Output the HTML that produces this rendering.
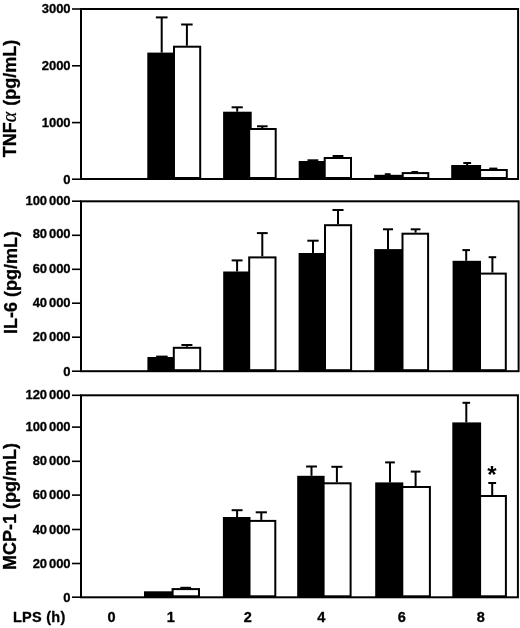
<!DOCTYPE html><html><head><meta charset="utf-8"><style>html,body{margin:0;padding:0;background:#fff;width:520px;height:628px;overflow:hidden}svg{display:block;will-change:transform}text{font-family:"Liberation Sans",sans-serif;font-weight:bold;fill:#000;stroke:#000;stroke-width:0.3px}</style></head><body>
<svg width="520" height="628" viewBox="0 0 520 628">
<rect width="520" height="628" fill="#fff"/>
<rect x="147.3" y="52.6" width="27.70" height="126.40" fill="#000"/>
<rect x="174.00" y="46.70" width="26.20" height="131.30" fill="#fff" stroke="#000" stroke-width="2"/>
<line x1="161.70" y1="52.60" x2="161.70" y2="17.40" stroke="#000" stroke-width="2"/>
<line x1="155.85" y1="17.40" x2="167.55" y2="17.40" stroke="#000" stroke-width="2"/>
<line x1="186.90" y1="45.70" x2="186.90" y2="24.50" stroke="#000" stroke-width="2"/>
<line x1="181.15" y1="24.50" x2="192.65" y2="24.50" stroke="#000" stroke-width="2"/>
<rect x="223.1" y="111.7" width="28.60" height="67.30" fill="#000"/>
<rect x="249.20" y="129.00" width="26.50" height="49.00" fill="#fff" stroke="#000" stroke-width="2"/>
<line x1="237.20" y1="111.70" x2="237.20" y2="107.30" stroke="#000" stroke-width="2"/>
<line x1="231.60" y1="107.30" x2="242.80" y2="107.30" stroke="#000" stroke-width="2"/>
<line x1="262.30" y1="128.00" x2="262.30" y2="126.30" stroke="#000" stroke-width="2"/>
<line x1="257.00" y1="126.30" x2="267.60" y2="126.30" stroke="#000" stroke-width="2"/>
<rect x="298.7" y="161.0" width="27.00" height="18.00" fill="#000"/>
<rect x="324.70" y="158.00" width="26.30" height="20.00" fill="#fff" stroke="#000" stroke-width="2"/>
<line x1="312.90" y1="161.00" x2="312.90" y2="160.30" stroke="#000" stroke-width="2"/>
<line x1="307.50" y1="160.30" x2="318.30" y2="160.30" stroke="#000" stroke-width="2"/>
<line x1="338.00" y1="157.00" x2="338.00" y2="156.00" stroke="#000" stroke-width="2"/>
<line x1="332.60" y1="156.00" x2="343.40" y2="156.00" stroke="#000" stroke-width="2"/>
<rect x="374.2" y="174.8" width="29.50" height="4.20" fill="#000"/>
<rect x="402.70" y="173.10" width="25.60" height="4.90" fill="#fff" stroke="#000" stroke-width="2"/>
<line x1="387.70" y1="174.80" x2="387.70" y2="174.20" stroke="#000" stroke-width="2"/>
<line x1="384.80" y1="174.20" x2="390.60" y2="174.20" stroke="#000" stroke-width="2"/>
<line x1="411.50" y1="172.00" x2="418.10" y2="172.00" stroke="#000" stroke-width="2"/>
<rect x="451.2" y="165" width="29.90" height="14.00" fill="#000"/>
<rect x="480.10" y="170.00" width="26.70" height="8.00" fill="#fff" stroke="#000" stroke-width="2"/>
<line x1="467.20" y1="165.00" x2="467.20" y2="163.00" stroke="#000" stroke-width="2"/>
<line x1="463.30" y1="163.00" x2="471.10" y2="163.00" stroke="#000" stroke-width="2"/>
<line x1="489.25" y1="168.60" x2="497.35" y2="168.60" stroke="#000" stroke-width="2"/>
<rect x="81" y="9.0" width="437.10" height="170.00" fill="none" stroke="#000" stroke-width="2"/>
<line x1="72" y1="9.0" x2="81" y2="9.0" stroke="#000" stroke-width="1.6"/>
<text transform="translate(70.6,12.60)" font-size="13" text-anchor="end">3000</text>
<line x1="72" y1="65.8" x2="81" y2="65.8" stroke="#000" stroke-width="1.6"/>
<text transform="translate(70.6,70.40)" font-size="13" text-anchor="end">2000</text>
<line x1="72" y1="122.6" x2="81" y2="122.6" stroke="#000" stroke-width="1.6"/>
<text transform="translate(70.6,127.20)" font-size="13" text-anchor="end">1000</text>
<line x1="72" y1="179.2" x2="81" y2="179.2" stroke="#000" stroke-width="1.6"/>
<text transform="translate(70.6,183.80)" font-size="13" text-anchor="end">0</text>
<rect x="147.4" y="357" width="27.40" height="14.20" fill="#000"/>
<rect x="173.80" y="347.80" width="26.40" height="22.40" fill="#fff" stroke="#000" stroke-width="2"/>
<line x1="156.15" y1="356.60" x2="167.65" y2="356.60" stroke="#000" stroke-width="2"/>
<line x1="186.90" y1="346.80" x2="186.90" y2="345.00" stroke="#000" stroke-width="2"/>
<line x1="181.40" y1="345.00" x2="192.40" y2="345.00" stroke="#000" stroke-width="2"/>
<rect x="223.2" y="271.5" width="27.00" height="99.70" fill="#000"/>
<rect x="249.20" y="257.40" width="26.30" height="112.80" fill="#fff" stroke="#000" stroke-width="2"/>
<line x1="237.10" y1="271.50" x2="237.10" y2="260.40" stroke="#000" stroke-width="2"/>
<line x1="231.65" y1="260.40" x2="242.55" y2="260.40" stroke="#000" stroke-width="2"/>
<line x1="262.30" y1="256.40" x2="262.30" y2="233.10" stroke="#000" stroke-width="2"/>
<line x1="256.90" y1="233.10" x2="267.70" y2="233.10" stroke="#000" stroke-width="2"/>
<rect x="298.6" y="253" width="27.40" height="118.20" fill="#000"/>
<rect x="325.00" y="225.20" width="26.10" height="145.00" fill="#fff" stroke="#000" stroke-width="2"/>
<line x1="313.00" y1="253.00" x2="313.00" y2="240.70" stroke="#000" stroke-width="2"/>
<line x1="307.35" y1="240.70" x2="318.65" y2="240.70" stroke="#000" stroke-width="2"/>
<line x1="338.00" y1="224.20" x2="338.00" y2="210.00" stroke="#000" stroke-width="2"/>
<line x1="332.45" y1="210.00" x2="343.55" y2="210.00" stroke="#000" stroke-width="2"/>
<rect x="374.2" y="249.1" width="29.30" height="122.10" fill="#000"/>
<rect x="402.50" y="233.70" width="25.60" height="136.50" fill="#fff" stroke="#000" stroke-width="2"/>
<line x1="388.00" y1="249.10" x2="388.00" y2="229.30" stroke="#000" stroke-width="2"/>
<line x1="383.00" y1="229.30" x2="393.00" y2="229.30" stroke="#000" stroke-width="2"/>
<line x1="415.60" y1="232.70" x2="415.60" y2="229.30" stroke="#000" stroke-width="2"/>
<line x1="410.75" y1="229.30" x2="420.45" y2="229.30" stroke="#000" stroke-width="2"/>
<rect x="452.6" y="260.8" width="28.40" height="110.40" fill="#000"/>
<rect x="480.00" y="273.60" width="25.80" height="96.60" fill="#fff" stroke="#000" stroke-width="2"/>
<line x1="466.20" y1="260.80" x2="466.20" y2="250.10" stroke="#000" stroke-width="2"/>
<line x1="462.40" y1="250.10" x2="470.00" y2="250.10" stroke="#000" stroke-width="2"/>
<line x1="492.40" y1="272.60" x2="492.40" y2="257.20" stroke="#000" stroke-width="2"/>
<line x1="488.60" y1="257.20" x2="496.20" y2="257.20" stroke="#000" stroke-width="2"/>
<rect x="81" y="201.3" width="437.60" height="169.90" fill="none" stroke="#000" stroke-width="2"/>
<line x1="72" y1="201.2" x2="81" y2="201.2" stroke="#000" stroke-width="1.6"/>
<text transform="translate(70.6,204.80)" font-size="13" text-anchor="end">100<tspan dx="1.8">000</tspan></text>
<line x1="72" y1="235.3" x2="81" y2="235.3" stroke="#000" stroke-width="1.6"/>
<text transform="translate(70.6,238.40)" font-size="13" text-anchor="end">80<tspan dx="1.8">000</tspan></text>
<line x1="72" y1="269.3" x2="81" y2="269.3" stroke="#000" stroke-width="1.6"/>
<text transform="translate(70.6,273.40)" font-size="13" text-anchor="end">60<tspan dx="1.8">000</tspan></text>
<line x1="72" y1="303.2" x2="81" y2="303.2" stroke="#000" stroke-width="1.6"/>
<text transform="translate(70.6,307.30)" font-size="13" text-anchor="end">40<tspan dx="1.8">000</tspan></text>
<line x1="72" y1="337.2" x2="81" y2="337.2" stroke="#000" stroke-width="1.6"/>
<text transform="translate(70.6,341.30)" font-size="13" text-anchor="end">20<tspan dx="1.8">000</tspan></text>
<line x1="72" y1="371.2" x2="81" y2="371.2" stroke="#000" stroke-width="1.6"/>
<text transform="translate(70.6,375.80)" font-size="13" text-anchor="end">0</text>
<rect x="144" y="591.3" width="29.60" height="6.00" fill="#000"/>
<rect x="172.60" y="589.10" width="26.40" height="7.20" fill="#fff" stroke="#000" stroke-width="2"/>
<line x1="180.30" y1="587.80" x2="191.10" y2="587.80" stroke="#000" stroke-width="2"/>
<rect x="222.9" y="517" width="27.60" height="80.30" fill="#000"/>
<rect x="249.50" y="520.90" width="25.80" height="75.40" fill="#fff" stroke="#000" stroke-width="2"/>
<line x1="237.10" y1="517.00" x2="237.10" y2="510.20" stroke="#000" stroke-width="2"/>
<line x1="231.65" y1="510.20" x2="242.55" y2="510.20" stroke="#000" stroke-width="2"/>
<line x1="261.30" y1="519.90" x2="261.30" y2="512.30" stroke="#000" stroke-width="2"/>
<line x1="255.70" y1="512.30" x2="266.90" y2="512.30" stroke="#000" stroke-width="2"/>
<rect x="297.2" y="475.8" width="27.40" height="121.50" fill="#000"/>
<rect x="323.60" y="483.30" width="27.00" height="113.00" fill="#fff" stroke="#000" stroke-width="2"/>
<line x1="311.50" y1="475.80" x2="311.50" y2="466.50" stroke="#000" stroke-width="2"/>
<line x1="306.05" y1="466.50" x2="316.95" y2="466.50" stroke="#000" stroke-width="2"/>
<line x1="336.90" y1="482.30" x2="336.90" y2="466.80" stroke="#000" stroke-width="2"/>
<line x1="331.35" y1="466.80" x2="342.45" y2="466.80" stroke="#000" stroke-width="2"/>
<rect x="375.2" y="482.4" width="28.10" height="114.90" fill="#000"/>
<rect x="402.30" y="487.00" width="27.60" height="109.30" fill="#fff" stroke="#000" stroke-width="2"/>
<line x1="390.00" y1="482.40" x2="390.00" y2="462.40" stroke="#000" stroke-width="2"/>
<line x1="385.15" y1="462.40" x2="394.85" y2="462.40" stroke="#000" stroke-width="2"/>
<line x1="415.60" y1="486.00" x2="415.60" y2="471.60" stroke="#000" stroke-width="2"/>
<line x1="410.75" y1="471.60" x2="420.45" y2="471.60" stroke="#000" stroke-width="2"/>
<rect x="452.3" y="422.4" width="28.80" height="174.90" fill="#000"/>
<rect x="480.10" y="496.00" width="25.80" height="100.30" fill="#fff" stroke="#000" stroke-width="2"/>
<line x1="466.30" y1="422.40" x2="466.30" y2="402.80" stroke="#000" stroke-width="2"/>
<line x1="462.50" y1="402.80" x2="470.10" y2="402.80" stroke="#000" stroke-width="2"/>
<line x1="492.20" y1="495.00" x2="492.20" y2="483.00" stroke="#000" stroke-width="2"/>
<line x1="488.30" y1="483.00" x2="496.10" y2="483.00" stroke="#000" stroke-width="2"/>
<rect x="81" y="395.3" width="436.90" height="202.00" fill="none" stroke="#000" stroke-width="2"/>
<line x1="72" y1="395.3" x2="81" y2="395.3" stroke="#000" stroke-width="1.6"/>
<text transform="translate(70.6,399.40)" font-size="13" text-anchor="end">120<tspan dx="1.8">000</tspan></text>
<line x1="72" y1="427.1" x2="81" y2="427.1" stroke="#000" stroke-width="1.6"/>
<text transform="translate(70.6,431.20)" font-size="13" text-anchor="end">100<tspan dx="1.8">000</tspan></text>
<line x1="72" y1="461.3" x2="81" y2="461.3" stroke="#000" stroke-width="1.6"/>
<text transform="translate(70.6,465.40)" font-size="13" text-anchor="end">80<tspan dx="1.8">000</tspan></text>
<line x1="72" y1="495.1" x2="81" y2="495.1" stroke="#000" stroke-width="1.6"/>
<text transform="translate(70.6,499.20)" font-size="13" text-anchor="end">60<tspan dx="1.8">000</tspan></text>
<line x1="72" y1="529.5" x2="81" y2="529.5" stroke="#000" stroke-width="1.6"/>
<text transform="translate(70.6,533.60)" font-size="13" text-anchor="end">40<tspan dx="1.8">000</tspan></text>
<line x1="72" y1="563.5" x2="81" y2="563.5" stroke="#000" stroke-width="1.6"/>
<text transform="translate(70.6,567.60)" font-size="13" text-anchor="end">20<tspan dx="1.8">000</tspan></text>
<line x1="72" y1="597.2" x2="81" y2="597.2" stroke="#000" stroke-width="1.6"/>
<text transform="translate(70.6,601.80)" font-size="13" text-anchor="end">0</text>
<text x="492" y="482.6" font-size="24" text-anchor="middle" style="stroke-width:0">*</text>
<text transform="translate(15.9,157.3) rotate(-90)" font-size="18">TNF<tspan font-family="Liberation Serif" font-size="20" font-weight="normal" font-style="italic" style="stroke-width:0.2px">&#945;</tspan><tspan dx="1"> (pg/mL)</tspan></text>
<text transform="translate(16.6,334.0) rotate(-90)" font-size="18">IL-6 (pg/mL)</text>
<text transform="translate(16.1,570.0) rotate(-90)" font-size="18">MCP-1 (pg/mL)</text>
<text x="13" y="621.8" font-size="14.5" textLength="52.3" lengthAdjust="spacing">LPS (h)</text>
<text x="111.5" y="621.8" font-size="14.5" text-anchor="middle">0</text>
<text x="170.8" y="621.8" font-size="14.5" text-anchor="middle">1</text>
<text x="247.8" y="621.8" font-size="14.5" text-anchor="middle">2</text>
<text x="321.4" y="621.8" font-size="14.5" text-anchor="middle">4</text>
<text x="401.7" y="621.8" font-size="14.5" text-anchor="middle">6</text>
<text x="480.9" y="621.8" font-size="14.5" text-anchor="middle">8</text>
</svg></body></html>
